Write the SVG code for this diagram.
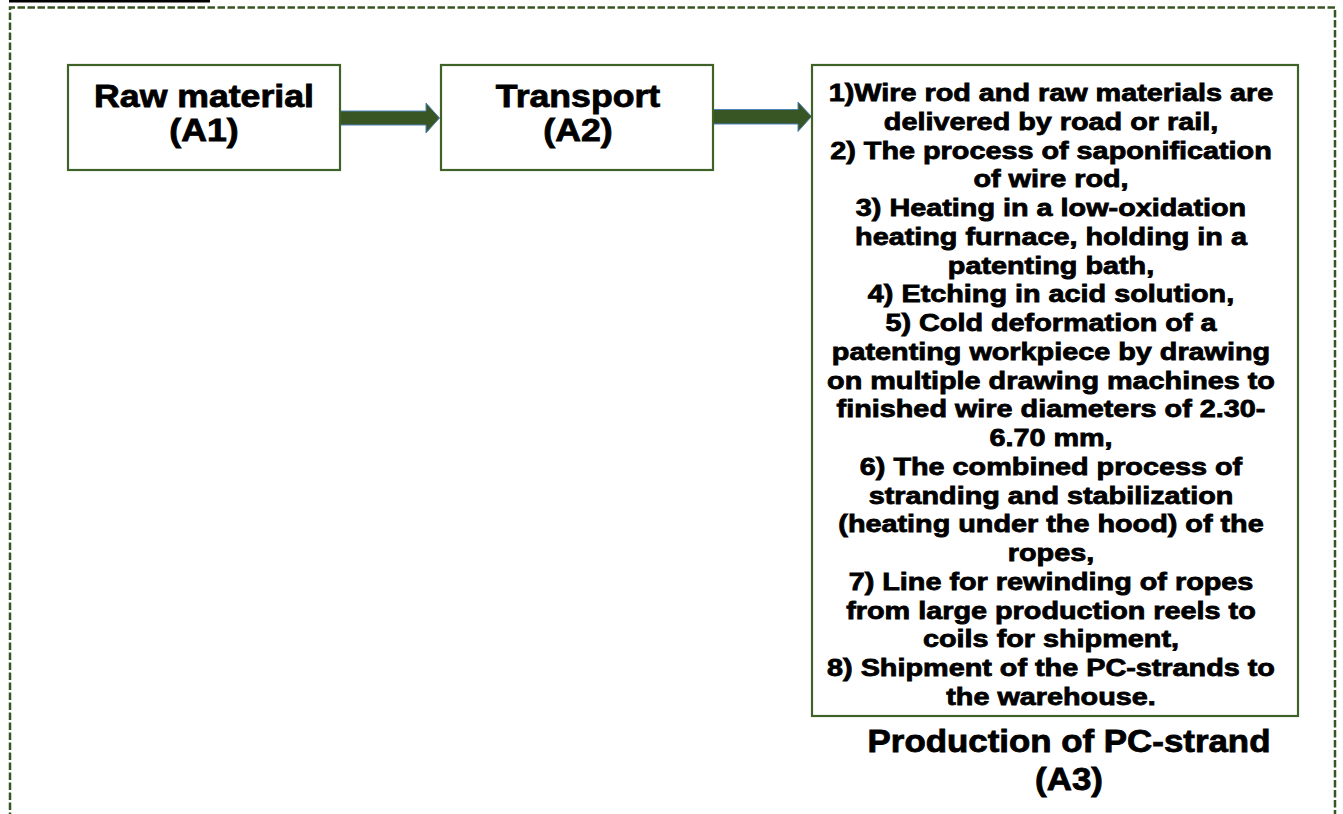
<svg xmlns="http://www.w3.org/2000/svg" width="1343" height="814" viewBox="0 0 1343 814">
<style>
.box{fill:#ffffff;stroke:#3f6228;stroke-width:2.2}
.frame{fill:none;stroke:#375623;stroke-width:2.5;stroke-dasharray:7.5 2.5}
.arrow{fill:#375623;stroke:#4f81bd;stroke-width:1}
.t{font-family:"Liberation Sans",Arial,sans-serif;font-weight:bold;fill:#000;stroke:#000;stroke-width:0.8;text-anchor:middle}
.big{font-size:31px}
.small{font-size:24px}
</style>
<rect x="0" y="0" width="1343" height="814" fill="#ffffff"/>
<rect x="9" y="0" width="201" height="2.5" fill="#000"/>
<path class="frame" d="M10,820 V7.5 H1335 V820"/>
<g id="connectors">
  <path class="arrow" d="M340,111 H426 V103 L439.5,118 L426,133 V125 H340 Z"/>
  <path class="arrow" d="M712,109.5 H798 V102 L811.5,116.5 L798,131.5 V124 H712 Z"/>
</g>
<g id="a1">
  <rect class="box" x="68" y="65" width="272" height="105"/>
  <text class="t big" transform="translate(204,107) scale(1.15,1)">Raw material</text>
  <text class="t big" transform="translate(204,141) scale(1.15,1)">(A1)</text>
</g>
<g id="a2">
  <rect class="box" x="441" y="65" width="272" height="105"/>
  <text class="t big" transform="translate(578,107) scale(1.15,1)">Transport</text>
  <text class="t big" transform="translate(578,141) scale(1.15,1)">(A2)</text>
</g>
<g id="a3">
  <rect class="box" x="812" y="65" width="486" height="651"/>
  <g class="t small">
    <text transform="translate(1051,101) scale(1.2,1)">1)Wire rod and raw materials are</text>
    <text transform="translate(1051,129.8) scale(1.2,1)">delivered by road or rail,</text>
    <text transform="translate(1051,158.5) scale(1.2,1)">2) The process of saponification</text>
    <text transform="translate(1051,187.3) scale(1.2,1)">of wire rod,</text>
    <text transform="translate(1051,216) scale(1.2,1)">3) Heating in a low-oxidation</text>
    <text transform="translate(1051,244.8) scale(1.2,1)">heating furnace, holding in a</text>
    <text transform="translate(1051,273.6) scale(1.2,1)">patenting bath,</text>
    <text transform="translate(1051,302.3) scale(1.2,1)">4) Etching in acid solution,</text>
    <text transform="translate(1051,331.1) scale(1.2,1)">5) Cold deformation of a</text>
    <text transform="translate(1051,359.8) scale(1.2,1)">patenting workpiece by drawing</text>
    <text transform="translate(1051,388.6) scale(1.2,1)">on multiple drawing machines to</text>
    <text transform="translate(1051,417.4) scale(1.2,1)">finished wire diameters of 2.30-</text>
    <text transform="translate(1051,446.1) scale(1.2,1)">6.70 mm,</text>
    <text transform="translate(1051,474.9) scale(1.2,1)">6) The combined process of</text>
    <text transform="translate(1051,503.6) scale(1.2,1)">stranding and stabilization</text>
    <text transform="translate(1051,532.4) scale(1.2,1)">(heating under the hood) of the</text>
    <text transform="translate(1051,561.2) scale(1.2,1)">ropes,</text>
    <text transform="translate(1051,589.9) scale(1.2,1)">7) Line for rewinding of ropes</text>
    <text transform="translate(1051,618.7) scale(1.2,1)">from large production reels to</text>
    <text transform="translate(1051,647.4) scale(1.2,1)">coils for shipment,</text>
    <text transform="translate(1051,676.2) scale(1.2,1)">8) Shipment of the PC-strands to</text>
    <text transform="translate(1051,705) scale(1.2,1)">the warehouse.</text>
  </g>
  <text class="t big" transform="translate(1069,752) scale(1.125,1)">Production of PC-strand</text>
  <text class="t big" transform="translate(1069,790) scale(1.125,1)">(A3)</text>
</g>
</svg>
